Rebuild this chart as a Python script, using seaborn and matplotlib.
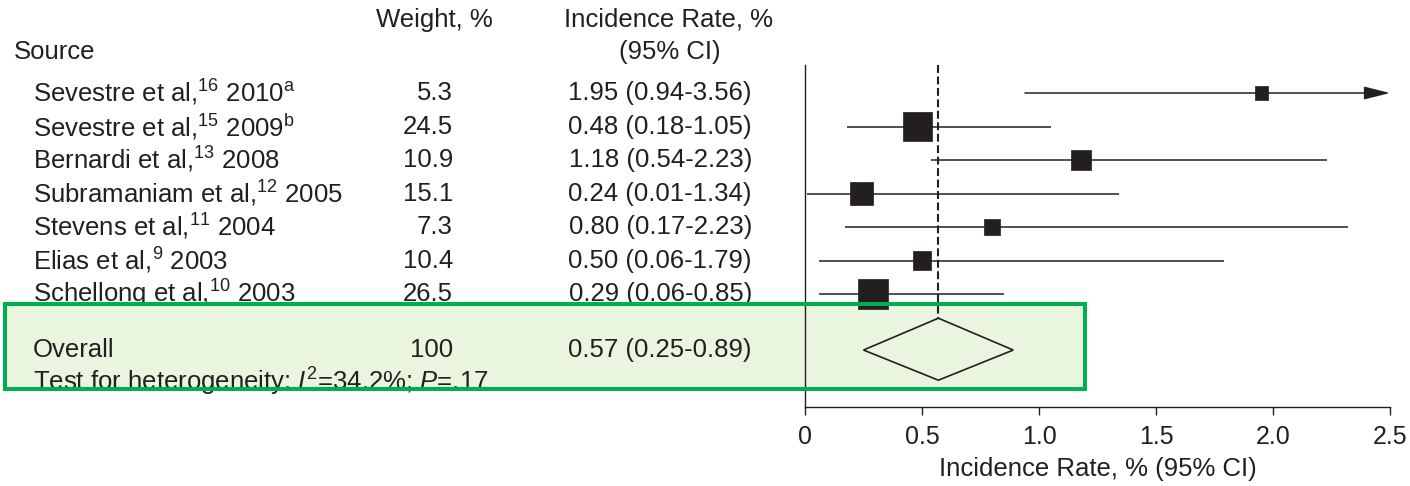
import numpy as np
import pandas as pd
import matplotlib.pyplot as plt
import seaborn as sns
from matplotlib.patches import Rectangle, Polygon
from matplotlib.transforms import blended_transform_factory

# Dados do forest plot
autores = ['Sevestre et al,', 'Sevestre et al,', 'Bernardi et al,', 'Subramaniam et al,',
           'Stevens et al,', 'Elias et al,', 'Schellong et al,']
refs = ['16', '15', '13', '12', '11', '9', '10']
anos = ['2010', '2009', '2008', '2005', '2004', '2003', '2003']
notas = ['a', 'b', '', '', '', '', '']
pesos = [5.3, 24.5, 10.9, 15.1, 7.3, 10.4, 26.5]
taxas = [1.95, 0.48, 1.18, 0.24, 0.80, 0.50, 0.29]
ic_texto = ['0.94-3.56', '0.18-1.05', '0.54-2.23', '0.01-1.34', '0.17-2.23',
            '0.06-1.79', '0.06-0.85']
# extremos das linhas como aparecem no gráfico
ic_inf = [0.94, 0.18, 0.54, 0.01, 0.17, 0.06, 0.06]
ic_sup = [3.56, 1.05, 2.23, 1.34, 2.32, 1.79, 0.85]

overall_peso = 100
overall_taxa = 0.57
overall_ic = (0.25, 0.89)
heterog_i2 = '34.2%'
heterog_p = '.17'

xticks = [0, 0.5, 1.0, 1.5, 2.0, 2.5]
xticklabels = ['0', '0.5', '1.0', '1.5', '2.0', '2.5']

sns.set_theme(style='white')
plt.rcParams['font.family'] = ['Liberation Sans', 'DejaVu Sans']
plt.rcParams['mathtext.fontset'] = 'custom'
plt.rcParams['mathtext.rm'] = 'Liberation Sans'
plt.rcParams['mathtext.it'] = 'Liberation Sans:italic'

cor = '#231f20'
fs = 18.5
W, H = 1410, 486

df = pd.DataFrame({'linha': np.arange(len(taxas)), 'taxa': taxas, 'peso': pesos,
                   'lo': ic_inf, 'hi': ic_sup})
linha_overall = 7.67

fig = plt.figure(figsize=(W / 100, H / 100), dpi=100)
ax = fig.add_axes([805 / W, 79 / H, 585 / W, 342 / H])
ax.patch.set_visible(False)
ax.set_xlim(0, 2.5)
ax.set_ylim(9.37, -0.836)

# caixa verde (fundo)
fig.add_artist(Rectangle((5 / W, 97 / H), 1080 / W, 85 / H, transform=fig.transFigure,
                         facecolor='#c8e6af', alpha=0.4, edgecolor='none', zorder=-1))

# linhas dos IC
xmax = ax.get_xlim()[1]
for _, r in df.iterrows():
    if r['hi'] > xmax:
        ax.annotate('', xy=(xmax, r['linha']), xytext=(r['lo'], r['linha']),
                    arrowprops=dict(arrowstyle='-|>,head_length=0.8,head_width=0.2',
                                    mutation_scale=20, color=cor, lw=1.1,
                                    shrinkA=0, shrinkB=0), annotation_clip=False)
    else:
        ax.hlines(r['linha'], r['lo'], r['hi'], color=cor, lw=1.1, zorder=2)

# quadrados proporcionais ao peso
k = 17.8
sns.scatterplot(data=df, x='taxa', y='linha', size='peso', marker='s',
                sizes=(k * min(pesos), k * max(pesos)), size_norm=(min(pesos), max(pesos)),
                color=cor, edgecolor=cor, linewidth=0.5, legend=False, ax=ax, zorder=3)

# linha tracejada e diamante
topo_diam = linha_overall - 0.95
ax.vlines(overall_taxa, ax.get_ylim()[1], topo_diam, color=cor, lw=1.5,
          linestyles=[(0, (3.8, 1.7))], zorder=1)
ax.add_patch(Polygon([(overall_ic[0], linha_overall), (overall_taxa, topo_diam),
                      (overall_ic[1], linha_overall), (overall_taxa, linha_overall + 0.9)],
                     closed=True, fill=False, edgecolor=cor, lw=1.2, zorder=4))

# eixos
sns.despine(ax=ax, top=True, right=True)
for s in ['left', 'bottom']:
    ax.spines[s].set_color(cor)
    ax.spines[s].set_linewidth(1.0)
ax.set_yticks([])
ax.set_xticks(xticks)
ax.set_xticklabels(xticklabels)
ax.tick_params(axis='x', bottom=True, direction='out', length=6, width=1.0, color=cor,
               labelsize=18, labelcolor=cor, pad=7)
ax.set_xlabel('Incidence Rate, % (95% CI)', fontsize=fs, color=cor, labelpad=6)
ax.set_ylabel('')

# tabela à esquerda
tr = blended_transform_factory(fig.transFigure, ax.transData)
for i in range(len(taxas)):
    rotulo = f'{autores[i]}$^{{\\mathrm{{{refs[i]}}}}}$ {anos[i]}'
    if notas[i]:
        rotulo += f'$^{{\\mathrm{{{notas[i]}}}}}$'
    ax.text(33 / W, i, rotulo, transform=tr, ha='left', va='center', fontsize=fs, color=cor)
    ax.text(453 / W, i, f'{pesos[i]:.1f}', transform=tr, ha='right', va='center',
            fontsize=fs, color=cor)
    ax.text(752 / W, i, f'{taxas[i]:.2f} ({ic_texto[i]})', transform=tr,
            ha='right', va='center', fontsize=fs, color=cor)

ax.text(33 / W, linha_overall, 'Overall', transform=tr, ha='left', va='center',
        fontsize=fs, color=cor)
ax.text(453 / W, linha_overall, f'{overall_peso}', transform=tr, ha='right', va='center',
        fontsize=fs, color=cor)
ax.text(752 / W, linha_overall,
        f'{overall_taxa:.2f} ({overall_ic[0]:.2f}-{overall_ic[1]:.2f})', transform=tr,
        ha='right', va='center', fontsize=fs, color=cor)
ax.text(33 / W, 8.62, f'Test for heterogeneity: $I^2$={heterog_i2}; $P$={heterog_p}',
        transform=tr, ha='left', va='center', fontsize=fs, color=cor)

# cabeçalhos
fig.text(14 / W, 1 - 52 / H, 'Source', ha='left', va='center', fontsize=fs, color=cor)
fig.text(434 / W, 1 - 20 / H, 'Weight, %', ha='center', va='center', fontsize=fs, color=cor)
fig.text(669 / W, 1 - 20 / H, 'Incidence Rate, %', ha='center', va='center', fontsize=fs,
         color=cor)
fig.text(670 / W, 1 - 52 / H, '(95% CI)', ha='center', va='center', fontsize=fs, color=cor)

# borda da caixa verde
fig.add_artist(Rectangle((5 / W, 97 / H), 1080 / W, 85 / H, transform=fig.transFigure,
                         facecolor='none', edgecolor='#00b050', lw=2.9, zorder=10))

fig.savefig('out.png', dpi=100)
